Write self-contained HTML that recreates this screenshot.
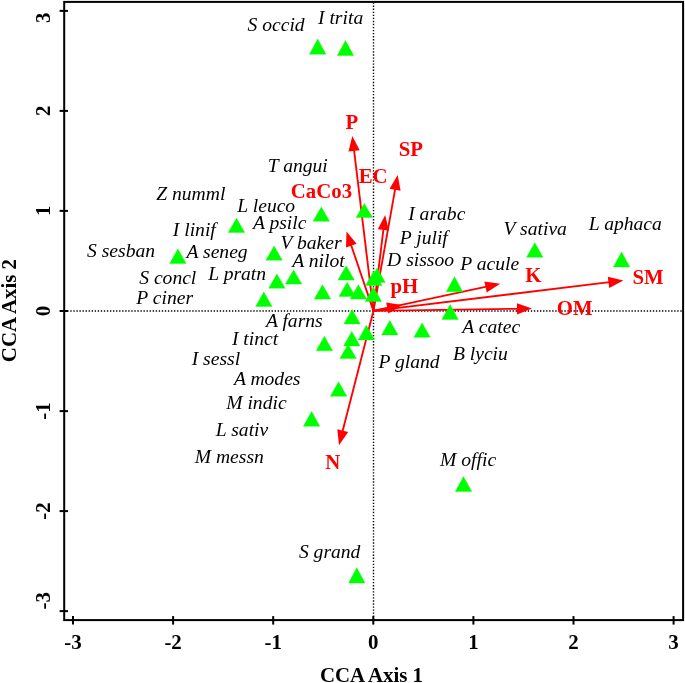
<!DOCTYPE html>
<html><head><meta charset="utf-8"><title>CCA biplot</title>
<style>
html,body{margin:0;padding:0;background:#fff;}
svg{display:block;}
text{font-family:"Liberation Serif","Times New Roman",serif;}
.sp{font-style:italic;font-size:19.6px;fill:#000;}
.env{font-weight:bold;font-size:20.8px;fill:#f00;}
.tk{font-weight:bold;font-size:20.9px;fill:#000;}
.ax{font-weight:bold;font-size:20.85px;fill:#000;}
</style></head><body>
<svg width="685" height="683" viewBox="0 0 685 683">
<rect width="685" height="683" fill="#fff"/>
<line x1="64.2" y1="311" x2="683.1" y2="311" stroke="#000" stroke-width="1.7" stroke-dasharray="1.35 1.7"/>
<line x1="373.5" y1="2.5" x2="373.5" y2="620.1" stroke="#000" stroke-width="1.4" stroke-dasharray="1.35 1.7"/>
<line x1="373.45" y1="310.9" x2="354.0" y2="149.9" stroke="#f00" stroke-width="1.85"/>
<polygon points="352.3,136.0 359.7,150.2 348.5,151.6" fill="#f00"/>
<line x1="373.45" y1="310.9" x2="395.2" y2="188.8" stroke="#f00" stroke-width="1.85"/>
<polygon points="397.7,175.0 400.6,190.8 389.6,188.8" fill="#f00"/>
<line x1="373.45" y1="310.9" x2="383.5" y2="228.9" stroke="#f00" stroke-width="1.85"/>
<polygon points="385.2,215.0 388.9,230.6 377.8,229.2" fill="#f00"/>
<line x1="373.45" y1="310.9" x2="351.0" y2="244.7" stroke="#f00" stroke-width="1.85"/>
<polygon points="346.5,231.4 356.6,243.8 346.0,247.4" fill="#f00"/>
<line x1="373.45" y1="310.9" x2="388.3" y2="307.8" stroke="#f00" stroke-width="1.85"/>
<polygon points="402.0,305.0 388.4,313.5 386.2,302.6" fill="#f00"/>
<line x1="373.45" y1="310.9" x2="486.5" y2="286.7" stroke="#f00" stroke-width="1.85"/>
<polygon points="500.2,283.8 486.7,292.4 484.4,281.5" fill="#f00"/>
<line x1="373.45" y1="310.9" x2="609.5" y2="282.2" stroke="#f00" stroke-width="1.85"/>
<polygon points="623.4,280.5 609.2,287.9 607.8,276.8" fill="#f00"/>
<line x1="373.45" y1="310.9" x2="518.0" y2="308.8" stroke="#f00" stroke-width="1.85"/>
<polygon points="532.0,308.6 517.1,314.4 516.9,303.2" fill="#f00"/>
<line x1="373.45" y1="310.9" x2="342.5" y2="431.6" stroke="#f00" stroke-width="1.85"/>
<polygon points="339.0,445.2 337.3,429.3 348.2,432.1" fill="#f00"/>
<polygon points="317.7,39.1 325.9,54.2 309.5,54.2" fill="#0f0" stroke="#0f0" stroke-width="0.4" stroke-linejoin="round"/>
<polygon points="345.5,40.6 353.7,55.5 337.3,55.5" fill="#0f0" stroke="#0f0" stroke-width="0.4" stroke-linejoin="round"/>
<polygon points="321.3,207.0 329.5,221.2 313.1,221.2" fill="#0f0" stroke="#0f0" stroke-width="0.4" stroke-linejoin="round"/>
<polygon points="364.3,203.4 372.5,217.4 356.1,217.4" fill="#0f0" stroke="#0f0" stroke-width="0.4" stroke-linejoin="round"/>
<polygon points="236.5,218.2 244.7,232.4 228.3,232.4" fill="#0f0" stroke="#0f0" stroke-width="0.4" stroke-linejoin="round"/>
<polygon points="177.9,248.9 186.1,263.6 169.7,263.6" fill="#0f0" stroke="#0f0" stroke-width="0.4" stroke-linejoin="round"/>
<polygon points="274.1,246.1 282.3,260.2 265.9,260.2" fill="#0f0" stroke="#0f0" stroke-width="0.4" stroke-linejoin="round"/>
<polygon points="276.9,274.1 285.1,288.2 268.7,288.2" fill="#0f0" stroke="#0f0" stroke-width="0.4" stroke-linejoin="round"/>
<polygon points="293.6,269.9 301.8,284.1 285.4,284.1" fill="#0f0" stroke="#0f0" stroke-width="0.4" stroke-linejoin="round"/>
<polygon points="263.8,292.0 272.0,306.4 255.6,306.4" fill="#0f0" stroke="#0f0" stroke-width="0.4" stroke-linejoin="round"/>
<polygon points="346.2,265.8 354.4,280.1 338.0,280.1" fill="#0f0" stroke="#0f0" stroke-width="0.4" stroke-linejoin="round"/>
<polygon points="322.5,284.8 330.7,299.1 314.3,299.1" fill="#0f0" stroke="#0f0" stroke-width="0.4" stroke-linejoin="round"/>
<polygon points="347.2,282.3 355.4,296.4 339.0,296.4" fill="#0f0" stroke="#0f0" stroke-width="0.4" stroke-linejoin="round"/>
<polygon points="358.4,284.8 366.6,299.1 350.2,299.1" fill="#0f0" stroke="#0f0" stroke-width="0.4" stroke-linejoin="round"/>
<polygon points="373.8,270.9 382.0,285.4 365.6,285.4" fill="#0f0" stroke="#0f0" stroke-width="0.4" stroke-linejoin="round"/>
<polygon points="377.1,268.0 385.3,282.6 368.9,282.6" fill="#0f0" stroke="#0f0" stroke-width="0.4" stroke-linejoin="round"/>
<polygon points="373.4,287.1 381.6,301.6 365.2,301.6" fill="#0f0" stroke="#0f0" stroke-width="0.4" stroke-linejoin="round"/>
<polygon points="352.1,309.5 360.3,323.9 343.9,323.9" fill="#0f0" stroke="#0f0" stroke-width="0.4" stroke-linejoin="round"/>
<polygon points="389.8,320.4 398.0,334.9 381.6,334.9" fill="#0f0" stroke="#0f0" stroke-width="0.4" stroke-linejoin="round"/>
<polygon points="422.1,322.9 430.3,337.2 413.9,337.2" fill="#0f0" stroke="#0f0" stroke-width="0.4" stroke-linejoin="round"/>
<polygon points="366.4,325.2 374.6,339.9 358.2,339.9" fill="#0f0" stroke="#0f0" stroke-width="0.4" stroke-linejoin="round"/>
<polygon points="351.8,331.4 360.0,345.9 343.6,345.9" fill="#0f0" stroke="#0f0" stroke-width="0.4" stroke-linejoin="round"/>
<polygon points="324.4,336.2 332.6,350.8 316.2,350.8" fill="#0f0" stroke="#0f0" stroke-width="0.4" stroke-linejoin="round"/>
<polygon points="348.1,344.2 356.3,358.6 339.9,358.6" fill="#0f0" stroke="#0f0" stroke-width="0.4" stroke-linejoin="round"/>
<polygon points="454.5,276.8 462.7,291.8 446.3,291.8" fill="#0f0" stroke="#0f0" stroke-width="0.4" stroke-linejoin="round"/>
<polygon points="450.1,304.6 458.3,319.4 441.9,319.4" fill="#0f0" stroke="#0f0" stroke-width="0.4" stroke-linejoin="round"/>
<polygon points="534.8,242.7 543.0,257.2 526.6,257.2" fill="#0f0" stroke="#0f0" stroke-width="0.4" stroke-linejoin="round"/>
<polygon points="621.6,252.1 629.8,266.9 613.4,266.9" fill="#0f0" stroke="#0f0" stroke-width="0.4" stroke-linejoin="round"/>
<polygon points="338.6,381.8 346.8,396.2 330.4,396.2" fill="#0f0" stroke="#0f0" stroke-width="0.4" stroke-linejoin="round"/>
<polygon points="311.6,411.6 319.8,426.2 303.4,426.2" fill="#0f0" stroke="#0f0" stroke-width="0.4" stroke-linejoin="round"/>
<polygon points="463.5,476.6 471.7,491.6 455.3,491.6" fill="#0f0" stroke="#0f0" stroke-width="0.4" stroke-linejoin="round"/>
<polygon points="356.8,567.7 365.0,583.0 348.6,583.0" fill="#0f0" stroke="#0f0" stroke-width="0.4" stroke-linejoin="round"/>
<rect x="64.2" y="1.9" width="618.9" height="618.2" fill="none" stroke="#000" stroke-width="2"/>
<line x1="73.0" y1="616.1" x2="73.0" y2="624.6" stroke="#000" stroke-width="2"/>
<line x1="59.6" y1="611.1" x2="68.0" y2="611.1" stroke="#000" stroke-width="2"/>
<text class="tk" x="73.0" y="648.7" text-anchor="middle">-3</text>
<text class="tk" transform="translate(49.8,600.8) rotate(-90)" text-anchor="middle">-3</text>
<line x1="173.1" y1="616.1" x2="173.1" y2="624.6" stroke="#000" stroke-width="2"/>
<line x1="59.6" y1="511.1" x2="68.0" y2="511.1" stroke="#000" stroke-width="2"/>
<text class="tk" x="173.1" y="648.7" text-anchor="middle">-2</text>
<text class="tk" transform="translate(49.8,511.1) rotate(-90)" text-anchor="middle">-2</text>
<line x1="273.2" y1="616.1" x2="273.2" y2="624.6" stroke="#000" stroke-width="2"/>
<line x1="59.6" y1="411.1" x2="68.0" y2="411.1" stroke="#000" stroke-width="2"/>
<text class="tk" x="273.2" y="648.7" text-anchor="middle">-1</text>
<text class="tk" transform="translate(49.8,411.1) rotate(-90)" text-anchor="middle">-1</text>
<line x1="373.3" y1="616.1" x2="373.3" y2="624.6" stroke="#000" stroke-width="2"/>
<line x1="59.6" y1="311.0" x2="68.0" y2="311.0" stroke="#000" stroke-width="2"/>
<text class="tk" x="373.3" y="648.7" text-anchor="middle">0</text>
<text class="tk" transform="translate(49.8,311.0) rotate(-90)" text-anchor="middle">0</text>
<line x1="473.4" y1="616.1" x2="473.4" y2="624.6" stroke="#000" stroke-width="2"/>
<line x1="59.6" y1="210.9" x2="68.0" y2="210.9" stroke="#000" stroke-width="2"/>
<text class="tk" x="473.4" y="648.7" text-anchor="middle">1</text>
<text class="tk" transform="translate(49.8,210.9) rotate(-90)" text-anchor="middle">1</text>
<line x1="573.5" y1="616.1" x2="573.5" y2="624.6" stroke="#000" stroke-width="2"/>
<line x1="59.6" y1="110.9" x2="68.0" y2="110.9" stroke="#000" stroke-width="2"/>
<text class="tk" x="573.5" y="648.7" text-anchor="middle">2</text>
<text class="tk" transform="translate(49.8,110.9) rotate(-90)" text-anchor="middle">2</text>
<line x1="673.6" y1="616.1" x2="673.6" y2="624.6" stroke="#000" stroke-width="2"/>
<line x1="59.6" y1="10.9" x2="68.0" y2="10.9" stroke="#000" stroke-width="2"/>
<text class="tk" x="673.6" y="648.7" text-anchor="middle">3</text>
<text class="tk" transform="translate(49.8,17.7) rotate(-90)" text-anchor="middle">3</text>
<text class="ax" x="371.5" y="681.6" text-anchor="middle">CCA Axis 1</text>
<text class="ax" transform="translate(16.1,310.6) rotate(-90)" text-anchor="middle">CCA Axis 2</text>
<text class="sp" x="247.5" y="31.2">S occid</text>
<text class="sp" x="318.0" y="24.1">I trita</text>
<text class="sp" x="267.7" y="172.2">T angui</text>
<text class="sp" x="156.2" y="199.9">Z numml</text>
<text class="sp" x="237.3" y="212.0">L leuco</text>
<text class="sp" x="172.8" y="235.7">I linif</text>
<text class="sp" x="252.9" y="228.7">A psilc</text>
<text class="sp" x="87.0" y="256.9">S sesban</text>
<text class="sp" x="186.5" y="257.5">A seneg</text>
<text class="sp" x="280.5" y="249.0">V baker</text>
<text class="sp" x="292.3" y="267.0">A nilot</text>
<text class="sp" x="139.2" y="283.7">S concl</text>
<text class="sp" x="208.2" y="280.3">L pratn</text>
<text class="sp" x="136.3" y="303.7">P ciner</text>
<text class="sp" x="408.2" y="220.1">I arabc</text>
<text class="sp" x="399.7" y="243.9">P julif</text>
<text class="sp" x="387.1" y="265.6">D sissoo</text>
<text class="sp" x="460.2" y="269.6">P acule</text>
<text class="sp" x="503.6" y="235.3">V sativa</text>
<text class="sp" x="588.7" y="230.0">L aphaca</text>
<text class="sp" x="462.3" y="332.9">A catec</text>
<text class="sp" x="452.9" y="359.6">B lyciu</text>
<text class="sp" x="378.5" y="367.5">P gland</text>
<text class="sp" x="265.9" y="326.8">A farns</text>
<text class="sp" x="231.9" y="345.1">I tinct</text>
<text class="sp" x="191.7" y="364.5">I sessl</text>
<text class="sp" x="233.9" y="385.4">A modes</text>
<text class="sp" x="226.2" y="408.7">M indic</text>
<text class="sp" x="215.8" y="436.0">L sativ</text>
<text class="sp" x="194.7" y="463.3">M messn</text>
<text class="sp" x="440.1" y="466.2">M offic</text>
<text class="sp" x="298.9" y="558.4">S grand</text>
<text class="env" x="345.4" y="128.6">P</text>
<text class="env" x="398.7" y="155.5">SP</text>
<text class="env" x="358.7" y="183.0">EC</text>
<text class="env" x="290.8" y="197.6">CaCo3</text>
<text class="env" x="390.5" y="292.5">pH</text>
<text class="env" x="525.2" y="282.3">K</text>
<text class="env" x="632.4" y="283.7">SM</text>
<text class="env" x="556.8" y="315.3">OM</text>
<text class="env" x="325.3" y="469.0">N</text>
</svg>
</body></html>
